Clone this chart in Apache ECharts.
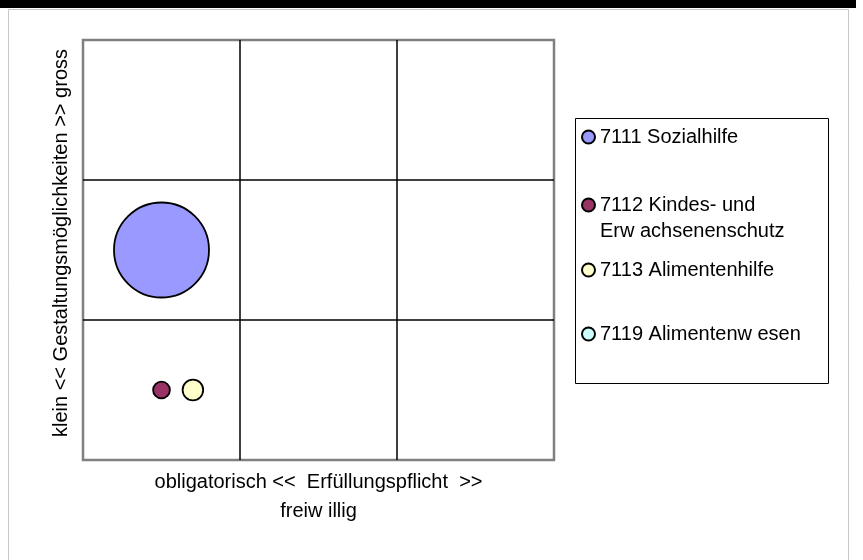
<!DOCTYPE html>
<html style="height: 100%">
<head>
    <meta charset="utf-8">
    <script src="https://cdn.jsdelivr.net/npm/echarts@6/dist/echarts.min.js"></script>
</head>
<body style="height: 100%; margin: 0; background: #fff">
    <div id="main" style="width: 863px; height: 560px"></div>
    <script type="text/javascript">
        // Daten der Blasen
        var seriesNames = ['7111 Sozialhilfe', '7112 Kindes- und\nErw achsenenschutz', '7113 Alimentenhilfe', '7119 Alimentenw esen'];
        var xValues = [0.5, 0.5, 0.7, null];
        var yValues = [1.5, 0.5, 0.5, null];
        var bubbleSizes = [32, 1, 1.5, 0];
        var colors = ['#9999FF', '#993366', '#FFFFCC', '#CCFFFF'];
        var axisTicks = [0, 1, 2, 3];
        var xTitle = 'obligatorisch <<  Erfüllungspflicht  >>\nfreiw illig';
        var yTitle = 'klein << Gestaltungsmöglichkeiten >> gross';

        var font = 'Liberation Sans, Arial, sans-serif';
        var maxSize = Math.max.apply(null, bubbleSizes);

        var myChart = echarts.init(document.getElementById('main'));

        var series = seriesNames.map(function (name, i) {
            var data = [];
            if (xValues[i] !== null) {
                data.push([xValues[i], yValues[i], bubbleSizes[i]]);
            }
            return {
                name: name,
                type: 'scatter',
                data: data,
                symbol: 'circle',
                symbolSize: function (v) {
                    return 95 * Math.sqrt(v[2] / maxSize); // Fläche proportional
                },
                itemStyle: { color: colors[i], borderColor: '#000', borderWidth: 1.8, opacity: 1 },
                emphasis: { disabled: true }
            };
        });

        // je Eintrag eine eigene Legende (unregelmässige Abstände wie im Original)
        var legendTops = [124, 166, 257, 321];
        var legends = seriesNames.map(function (name, i) {
            return {
                data: [name],
                left: 581,
                top: legendTops[i],
                padding: 0,
                icon: 'circle',
                itemWidth: 13,
                itemHeight: 13,
                selectedMode: false,
                itemStyle: { borderColor: '#000', borderWidth: 2 },
                textStyle: { fontFamily: font, fontSize: 20, color: '#000', lineHeight: 26 },
                formatter: i === 1 ? function (n) { return '\n' + n; } : '{name}'
            };
        });

        var option = {
            backgroundColor: '#fff',
            animation: false,
            graphic: [
                { type: 'rect', shape: { x: 0, y: 0, width: 856, height: 8 }, style: { fill: '#000' }, silent: true },
                { type: 'rect', shape: { x: 8.5, y: 9.5, width: 840, height: 600 }, style: { fill: 'none', stroke: '#c8c8c8', lineWidth: 1 }, silent: true },
                { type: 'rect', shape: { x: 575.5, y: 118.5, width: 253, height: 265 }, style: { fill: 'none', stroke: '#000', lineWidth: 1 }, silent: true }
            ],
            legend: legends,
            grid: {
                left: 83, top: 40, right: 309, bottom: 100,
                show: true, backgroundColor: '#fff',
                borderColor: '#808080', borderWidth: 2.5
            },
            xAxis: {
                type: 'value',
                min: axisTicks[0], max: axisTicks[axisTicks.length - 1], interval: 1,
                name: xTitle,
                nameLocation: 'middle',
                nameGap: 8,
                nameTextStyle: { fontFamily: font, fontSize: 20, color: '#000', lineHeight: 29 },
                axisLine: { show: false },
                axisTick: { show: false },
                axisLabel: { show: false },
                splitLine: { show: true, showMinLine: false, showMaxLine: false, lineStyle: { color: '#000', width: 1.5 } }
            },
            yAxis: {
                type: 'value',
                min: axisTicks[0], max: axisTicks[axisTicks.length - 1], interval: 1,
                name: yTitle,
                nameLocation: 'middle',
                nameGap: 11,
                nameTextStyle: { fontFamily: font, fontSize: 20, color: '#000', lineHeight: 22, padding: [0, 0, 0, 14] },
                axisLine: { show: false },
                axisTick: { show: false },
                axisLabel: { show: false },
                splitLine: { show: true, showMinLine: false, showMaxLine: false, lineStyle: { color: '#000', width: 1.5 } }
            },
            series: series
        };

        myChart.setOption(option);
    </script>
</body>
</html>
